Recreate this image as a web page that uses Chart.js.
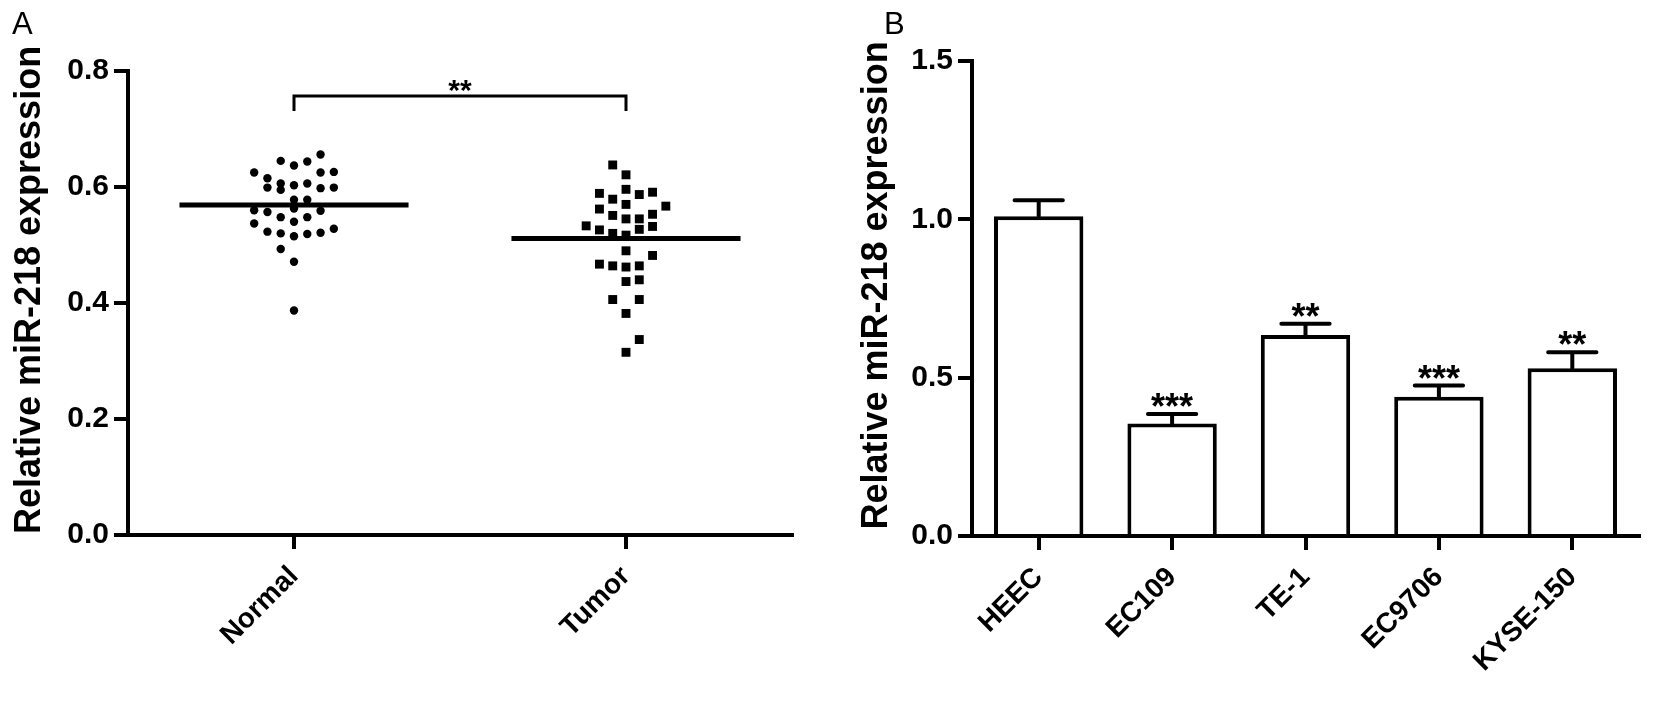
<!DOCTYPE html>
<html>
<head>
<meta charset="utf-8">
<script src="https://cdn.jsdelivr.net/npm/chart.js@4.4.1/dist/chart.umd.min.js"></script>
<style>
  html, body { margin: 0; padding: 0; background: #fff; }
  #wrap { position: relative; width: 1654px; height: 706px; overflow: hidden; font-family: "Liberation Sans", Arial, sans-serif; }
  canvas { position: absolute; top: 0; }
  #chartA { left: 0; }
  #chartB { left: 827px; }
  .panel { position: absolute; top: 8px; font-size: 31px; line-height: 1; color: #000; }
</style>
</head>
<body>
<div id="wrap">
  <canvas id="chartA" width="827" height="706"></canvas>
  <canvas id="chartB" width="827" height="706"></canvas>
  <div class="panel" style="left:12px">A</div>
  <div class="panel" style="left:884px">B</div>
</div>
<script>
// ---------- Data ----------
const Y_TITLE = "Relative miR-218 expression";

// Panel A: column scatter (value + horizontal slot in the column)
const GROUPS = ["Normal", "Tumor"];
const normalVals = [0.656, 0.645, 0.637, 0.644, 0.625, 0.625, 0.626, 0.615, 0.606, 0.603, 0.606,
  0.599, 0.595, 0.598, 0.599, 0.578, 0.578, 0.560, 0.557, 0.563, 0.559, 0.537, 0.548, 0.540,
  0.548, 0.523, 0.520, 0.515, 0.519, 0.521, 0.528, 0.493, 0.471, 0.387];
const normalSlots = [2, -1, 0, 1, -3, 2, 3, -2, -1, 0, 1,
  -2, -1, 2, 3, 0, 1, -3, -2, 0, 2, -3, -1, 0,
  1, -2, -1, 0, 1, 2, 3, -1, 0, 0];
const tumorVals = [0.638, 0.621, 0.589, 0.596, 0.587, 0.591, 0.579, 0.570, 0.567, 0.562, 0.553,
  0.551, 0.545, 0.545, 0.533, 0.526, 0.527, 0.532, 0.520, 0.517, 0.490, 0.482, 0.467, 0.464,
  0.462, 0.464, 0.437, 0.440, 0.406, 0.406, 0.382, 0.337, 0.315];
const tumorSlots = [-1, 0, -2, 0, 1, 2, -1, 0, 3, -2, 2,
  -1, 0, 1, -3, -2, 1, 2, -1, 0, 0, 2, -2, -1,
  0, 1, 0, 1, -1, 1, 0, 1, 0];
const groupMeans = [0.569, 0.511];
const groupSig = "**";
const Y_A_TICKS = [0, 0.2, 0.4, 0.6, 0.8];

// Panel B: bars with SEM
const CELL_LINES = ["HEEC", "EC109", "TE-1", "EC9706", "KYSE-150"];
const cellMeans = [1.01, 0.355, 0.635, 0.44, 0.53];
const cellSem = [0.05, 0.03, 0.035, 0.035, 0.05];
const cellSig = ["", "***", "**", "***", "**"];
const Y_B_TICKS = [0, 0.5, 1.0, 1.5];

// ---------- Style ----------
const FONT = "'Liberation Sans', Arial, sans-serif";
const JITTER = 0.04;       // column width of one slot (x units)
const MEAN_HALF = 0.345;   // half length of mean line (x units)

Chart.defaults.font.family = FONT;
Chart.defaults.color = "#000";

const tickFont = { family: FONT, size: 30, weight: "bold" };
const catFont = { family: FONT, size: 28, weight: "bold" };
const gridStyle = { drawOnChartArea: false, tickLength: 14, lineWidth: 4, color: "#000" };
const borderStyle = { width: 4, color: "#000" };

// ---------- Plugins ----------
// y title drawn by hand so it can sit a little above the axis centre, as in the figure
const yTitle = {
  id: "yTitle",
  afterDraw(chart, args, opts) {
    const { ctx, chartArea } = chart;
    ctx.save();
    ctx.translate(opts.x, (chartArea.top + chartArea.bottom) / 2 - 13);
    ctx.rotate(-Math.PI / 2);
    ctx.font = `bold 36px ${FONT}`;
    ctx.fillStyle = "#000";
    ctx.textAlign = "center";
    ctx.textBaseline = "middle";
    ctx.fillText(Y_TITLE, 0, 0);
    ctx.restore();
  },
};

const meanBracket = {
  id: "meanBracket",
  afterDatasetsDraw(chart) {
    const { ctx, scales: { x, y } } = chart;
    ctx.save();
    ctx.strokeStyle = "#000";
    ctx.lineWidth = 5;
    groupMeans.forEach((m, i) => {
      const py = y.getPixelForValue(m);
      ctx.beginPath();
      ctx.moveTo(x.getPixelForValue(i + 1 - MEAN_HALF), py);
      ctx.lineTo(x.getPixelForValue(i + 1 + MEAN_HALF), py);
      ctx.stroke();
    });
    // significance bracket
    const top = y.getPixelForValue(0.757), foot = y.getPixelForValue(0.731);
    const x1 = x.getPixelForValue(1), x2 = x.getPixelForValue(2);
    ctx.lineWidth = 3;
    ctx.beginPath();
    ctx.moveTo(x1, foot); ctx.lineTo(x1, top); ctx.lineTo(x2, top); ctx.lineTo(x2, foot);
    ctx.stroke();
    ctx.fillStyle = "#000";
    ctx.font = `bold 30px ${FONT}`;
    ctx.textAlign = "center";
    ctx.textBaseline = "alphabetic";
    ctx.fillText(groupSig, (x1 + x2) / 2, top + 4);
    ctx.restore();
  },
};

const errorBars = {
  id: "errorBars",
  afterDatasetsDraw(chart) {
    const { ctx, scales: { y } } = chart;
    const meta = chart.getDatasetMeta(0);
    ctx.save();
    ctx.strokeStyle = "#000";
    ctx.fillStyle = "#000";
    ctx.lineWidth = 4;
    ctx.lineCap = "round";
    meta.data.forEach((bar, i) => {
      const yTop = y.getPixelForValue(cellMeans[i] + cellSem[i]);
      const half = bar.width * 0.27;
      ctx.beginPath();
      ctx.moveTo(bar.x, bar.y);
      ctx.lineTo(bar.x, yTop);
      ctx.moveTo(bar.x - half, yTop);
      ctx.lineTo(bar.x + half, yTop);
      ctx.stroke();
      if (cellSig[i]) {
        ctx.font = `bold 36px ${FONT}`;
        ctx.textAlign = "center";
        ctx.textBaseline = "alphabetic";
        ctx.fillText(cellSig[i], bar.x, yTop + 5);
      }
    });
    ctx.restore();
  },
};

// ---------- Panel A ----------
new Chart(document.getElementById("chartA"), {
  type: "scatter",
  data: {
    datasets: [
      {
        data: normalVals.map((v, i) => ({ x: 1 + normalSlots[i] * JITTER, y: v })),
        pointStyle: "circle",
        pointRadius: 4.2,
        backgroundColor: "#000",
        borderWidth: 0,
      },
      {
        data: tumorVals.map((v, i) => ({ x: 2 + tumorSlots[i] * JITTER, y: v })),
        pointStyle: "rect",
        pointRadius: 6.3,
        backgroundColor: "#000",
        borderWidth: 0,
      },
    ],
  },
  options: {
    responsive: false,
    animation: false,
    events: [],
    layout: { padding: { top: 71, right: 35, left: 0, bottom: 0 } },
    plugins: { legend: { display: false }, tooltip: { enabled: false }, yTitle: { x: 30 } },
    scales: {
      x: {
        type: "linear",
        min: 0.5,
        max: 2.5,
        afterBuildTicks: (s) => { s.ticks = GROUPS.map((g, i) => ({ value: i + 1 })); },
        afterFit: (s) => { s.height = 171; },
        ticks: { callback: (v) => GROUPS[v - 1], font: catFont, color: "#000", minRotation: 45, maxRotation: 45, padding: 11 },
        grid: gridStyle,
        border: borderStyle,
      },
      y: {
        min: 0,
        max: 0.8,
        afterBuildTicks: (s) => { s.ticks = Y_A_TICKS.map((v) => ({ value: v })); },
        afterFit: (s) => { s.width = 128; },
        ticks: { callback: (v) => v.toFixed(1), font: tickFont, color: "#000", padding: 5 },
        grid: gridStyle,
        border: borderStyle,
      },
    },
  },
  plugins: [meanBracket, yTitle],
});

// ---------- Panel B ----------
new Chart(document.getElementById("chartB"), {
  type: "bar",
  data: {
    labels: CELL_LINES,
    datasets: [
      {
        data: cellMeans,
        backgroundColor: "#fff",
        borderColor: "#000",
        borderWidth: 4,
        borderSkipped: "bottom",
        barPercentage: 0.67,
        categoryPercentage: 1,
      },
    ],
  },
  options: {
    responsive: false,
    animation: false,
    events: [],
    layout: { padding: { top: 61, right: 15, left: 0, bottom: 0 } },
    plugins: { legend: { display: false }, tooltip: { enabled: false }, yTitle: { x: 50 } },
    scales: {
      x: {
        afterFit: (s) => { s.height = 170; },
        ticks: { font: catFont, color: "#000", minRotation: 45, maxRotation: 45, padding: 11 },
        grid: { ...gridStyle, offset: false },
        border: borderStyle,
      },
      y: {
        min: 0,
        max: 1.5,
        afterBuildTicks: (s) => { s.ticks = Y_B_TICKS.map((v) => ({ value: v })); },
        afterFit: (s) => { s.width = 145; },
        ticks: { callback: (v) => v.toFixed(1), font: tickFont, color: "#000", padding: 5 },
        grid: gridStyle,
        border: borderStyle,
      },
    },
  },
  plugins: [errorBars, yTitle],
});
</script>
</body>
</html>
